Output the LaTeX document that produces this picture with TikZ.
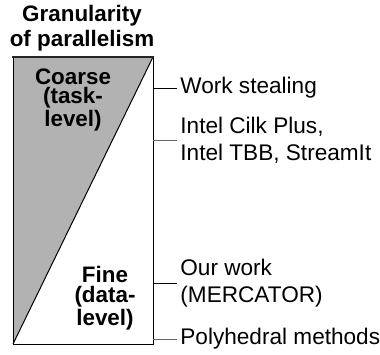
\documentclass[tikz,border=0pt]{standalone}
\usepackage{fontspec}
\setmainfont{Liberation Sans}
\usepackage{tikz}
\usetikzlibrary{positioning}
\usetikzlibrary{calc}

\begin{document}
\begin{tikzpicture}[x=0.5pt,y=-0.5pt,
		item/.style={anchor=west, align=left, inner sep=1.5pt, font=\fontsize{11.3}{13.4}\selectfont},
		grain/.style={align=center, inner sep=0pt, font=\fontsize{11.2}{9.8}\selectfont\bfseries},
		tick/.style={line width=0.5pt},
		softtick/.style={line width=0.5pt, draw=black!60}]
		\useasboundingbox (0,0) rectangle (380,354);
		\coordinate (tl) at (13,57);
		\coordinate (tr) at (153,57);
		\coordinate (bl) at (13,344);
		\coordinate (br) at (153,344);
		% heading
		\node [align=center, inner sep=0pt, font=\fontsize{11.2}{12.6}\selectfont\bfseries] (head) at (82,28) {Granularity\\of parallelism};
		% the box
		\fill [black!30] (tl) -- (tr) -- (bl) -- cycle;
		\draw [line width=0.5pt] (tr) -- (bl);
		\draw [line width=0.5pt] (tl) -- (bl) -- (br) -- (tr);
		\draw [line width=1.2pt, black!85] ([xshift=-0.3pt]tl) -- ([xshift=0.3pt]tr);
		\node [grain] (coarse) at (73,100) {Coarse\\(task-\\level)};
		\node [grain] (fine) at (105,298) {Fine\\(data-\\level)};
		% the methods
		\node [item] at (177,88) (ws) {Work stealing};
		\node [item] at (177,140) (cilk) {Intel Cilk Plus,\\Intel TBB, StreamIt};
		\node [item] at (177,283) (ours) {Our work\\(MERCATOR)};
		\node [item] at (177,339) (poly) {Polyhedral methods};
		\draw [tick] (tr |- ws.west) -- (ws.west);
		\draw [softtick] (tr |- cilk.west) -- (cilk.west);
		\draw [tick] (tr |- ours.west) -- (ours.west);
		\draw [softtick] (tr |- poly.west) -- (poly.west);
		
		\end{tikzpicture}
\end{document}
